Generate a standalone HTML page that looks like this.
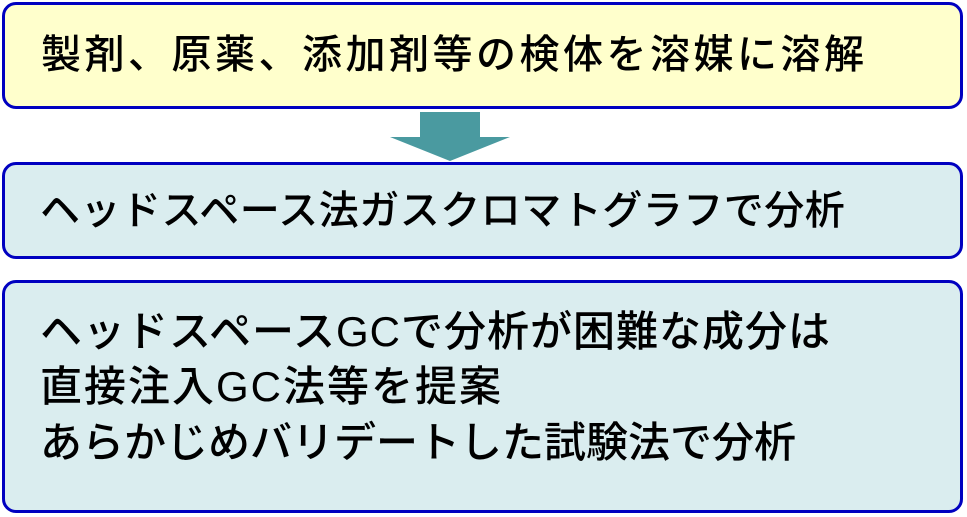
<!DOCTYPE html>
<html><head><meta charset="utf-8"><style>
body{margin:0;width:967px;height:517px;background:#fff;position:relative;overflow:hidden;font-family:"Liberation Sans","Noto Sans CJK JP",sans-serif;color:#000}
.b{position:absolute;box-sizing:border-box;border:3px solid #0000c0;border-radius:14px}
.t{position:absolute;white-space:nowrap;font-size:42px;line-height:1;font-weight:500}
</style></head><body>
<div class="b" style="left:2px;top:2px;width:961px;height:107px;background:#ffffcc"></div>
<div class="t" style="left:41px;top:35px;font-size:40px;letter-spacing:3.5px">製剤、原薬、添加剤等の検体を溶媒に溶解</div>
<svg style="position:absolute;left:0;top:0" width="967" height="170"><polygon points="420,112 480,112 480,137 510,137 450,161 390,137 420,137" fill="#4a9aa0"/></svg>
<div class="b" style="left:2px;top:162px;width:961px;height:97px;background:#daedef"></div>
<div class="t" style="left:40px;top:191px;font-size:40px;letter-spacing:0.5px">ヘッドスペース法ガスクロマトグラフで分析</div>
<div class="b" style="left:2px;top:280px;width:961px;height:233px;background:#daedef"></div>
<div class="t" style="left:40px;top:311px;letter-spacing:1px">ヘッドスペースGCで分析が困難な成分は</div>
<div class="t" style="left:40px;top:366px;letter-spacing:2px">直接注入GC法等を提案</div>
<div class="t" style="left:40px;top:422px">あらかじめバリデートした試験法で分析</div>
</body></html>
